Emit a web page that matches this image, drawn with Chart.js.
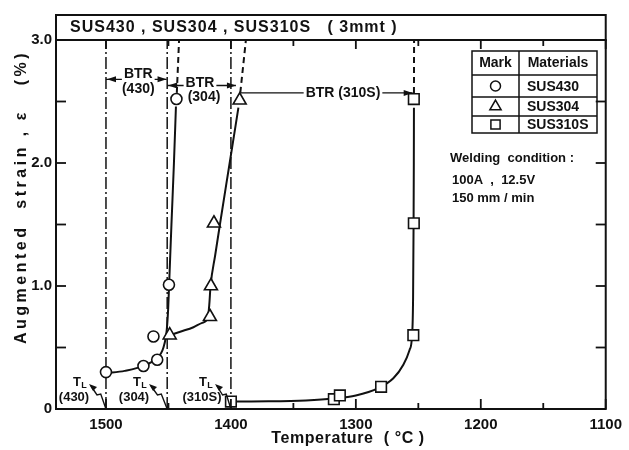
<!DOCTYPE html>
<html>
<head>
<meta charset="utf-8">
<script src="https://cdn.jsdelivr.net/npm/chart.js@4/dist/chart.umd.min.js"></script>
<style>
  html, body { margin: 0; padding: 0; background: #fff; }
  #wrap { width: 629px; height: 450px; }
</style>
</head>
<body>
<div id="wrap"><canvas id="c" width="629" height="450"></canvas></div>
<script>
// measured points (temperature degC, augmented strain %)
const sus430T = [1500, 1470, 1459, 1462, 1449.6, 1443.6];
const sus430E = [0.30, 0.35, 0.40, 0.59, 1.01, 2.52];
const sus304T = [1449, 1416.8, 1416, 1413.6, 1393];
const sus304E = [0.60, 0.75, 1.00, 1.51, 2.51];
const sus310T = [1400, 1317.6, 1312.8, 1279.8, 1254, 1253.6, 1253.6];
const sus310E = [0.06, 0.08, 0.11, 0.18, 0.60, 1.51, 2.52];

// hand drawn fitted curves
const curve430T = [1500, 1485, 1470, 1460, 1454, 1451.3, 1450.2, 1449.5, 1447.6, 1445.6, 1444];
const curve430E = [0.29, 0.31, 0.35, 0.41, 0.50, 0.65, 0.82, 1.00, 1.50, 2.00, 2.46];
const dash430T = [1443.3, 1441.5];
const dash430E = [2.57, 3.0];

const curve304T = [1449, 1440, 1430, 1423, 1418.5, 1417.3, 1416.3, 1412.6, 1408.8, 1401, 1394];
const curve304E = [0.60, 0.63, 0.665, 0.70, 0.74, 0.85, 1.00, 1.25, 1.50, 2.00, 2.45];
const dash304T = [1392.5, 1388];
const dash304E = [2.57, 3.0];

const curve310T = [1400, 1370, 1340, 1318, 1300, 1282, 1270, 1262, 1257, 1255, 1254.2, 1253.8, 1253.6, 1253.5];
const curve310E = [0.06, 0.062, 0.07, 0.085, 0.11, 0.17, 0.25, 0.36, 0.48, 0.60, 0.90, 1.50, 2.00, 2.45];
const dash310T = [1253.5, 1253.4];
const dash310E = [2.57, 3.0];

// liquidus temperatures T_L
const tlTemps = [1500, 1451, 1400];
const tlNames = ['(430)', '(304)', '(310S)'];

// brittleness temperature ranges
const btrFrom = [1500, 1451, 1392];
const btrTo = [1451.5, 1396, 1254.5];
const btrLevel = [2.68, 2.63, 2.57];

const xTicks = [1500, 1400, 1300, 1200, 1100];
const xMinor = [1450, 1350, 1250, 1150];
const yTicks = [0, 1, 2, 3];
const yTickLabels = ['0', '1.0', '2.0', '3.0'];
const yMinor = [0.5, 1.5, 2.5];

const materials = ['SUS430', 'SUS304', 'SUS310S'];

const ink = '#111';
const FONT = '"Liberation Sans", Arial, sans-serif';

const pts = (t, e) => t.map((v, i) => ({ x: v, y: e[i] }));

function curve(t, e, dash) {
  return {
    type: 'line', data: pts(t, e), borderColor: ink, borderWidth: 2,
    borderDash: dash || [], pointRadius: 0, fill: false,
    cubicInterpolationMode: 'monotone'
  };
}
function marks(t, e, style, r) {
  return {
    type: 'scatter', data: pts(t, e), pointStyle: style, pointRadius: r,
    pointBackgroundColor: '#fff', pointBorderColor: ink, pointBorderWidth: 1.6,
    showLine: false
  };
}

const datasets = [
  marks(sus430T, sus430E, 'circle', 5.5),
  marks(sus304T, sus304E, 'triangle', 7.5),
  marks(sus310T, sus310E, 'rect', 7.5),
  curve(curve430T, curve430E),
  curve(dash430T, dash430E, [6, 4]),
  curve(curve304T, curve304E),
  curve(dash304T, dash304E, [6, 4]),
  curve(curve310T, curve310E),
  curve(dash310T, dash310E, [6, 4])
];
tlTemps.forEach(t => {
  datasets.push({
    type: 'line', data: [{ x: t, y: 0 }, { x: t, y: 3 }], borderColor: ink,
    borderWidth: 1.5, borderDash: [12, 3, 2, 3], pointRadius: 0
  });
});

function arrowHead(ctx, x, y, dir) {
  ctx.beginPath();
  ctx.moveTo(x, y);
  ctx.lineTo(x - dir * 9, y - 3);
  ctx.lineTo(x - dir * 9, y + 3);
  ctx.closePath();
  ctx.fill();
}
function seg(ctx, x1, y1, x2, y2) {
  ctx.beginPath(); ctx.moveTo(x1, y1); ctx.lineTo(x2, y2); ctx.stroke();
}
function label(ctx, txt, x, y, align) {
  ctx.textAlign = align || 'center';
  ctx.fillText(txt, x, y);
}
function bgLabel(ctx, txt, x, y) {
  const w = ctx.measureText(txt).width;
  ctx.fillStyle = '#fff';
  ctx.fillRect(x - w / 2 - 2, y - 8, w + 4, 16);
  ctx.fillStyle = ink;
  label(ctx, txt, x, y);
}

const decor = {
  id: 'decor',
  afterDraw(chart) {
    const { ctx, chartArea: a, scales: { x, y } } = chart;
    ctx.save();
    ctx.strokeStyle = ink;
    ctx.fillStyle = ink;
    ctx.lineCap = 'butt';

    // frame and title box
    ctx.lineWidth = 2;
    ctx.strokeRect(a.left, a.top, a.right - a.left, a.bottom - a.top);
    ctx.strokeRect(a.left, 15, a.right - a.left, a.top - 15);
    ctx.textBaseline = 'middle';
    ctx.font = 'bold 16px ' + FONT;
    ctx.letterSpacing = '1px';
    label(ctx, 'SUS430 , SUS304 , SUS310S   ( 3mmt )', a.left + 14, 28, 'left');
    ctx.letterSpacing = '0px';

    // inward ticks on all four sides
    ctx.lineWidth = 1.8;
    xTicks.forEach(v => {
      const p = x.getPixelForValue(v);
      seg(ctx, p, a.bottom, p, a.bottom - 10);
      seg(ctx, p, a.top, p, a.top + 9);
    });
    xMinor.forEach(v => {
      const p = x.getPixelForValue(v);
      seg(ctx, p, a.bottom, p, a.bottom - 6);
      seg(ctx, p, a.top, p, a.top + 6);
    });
    yTicks.concat(yMinor).forEach(v => {
      const p = y.getPixelForValue(v);
      seg(ctx, a.left, p, a.left + 10, p);
      seg(ctx, a.right, p, a.right - 10, p);
    });

    // BTR arrows
    ctx.lineWidth = 1.4;
    ctx.font = 'bold 14px ' + FONT;
    const bx = btrFrom.map(v => x.getPixelForValue(v));
    const ex = btrTo.map(v => x.getPixelForValue(v));
    const by = btrLevel.map(v => y.getPixelForValue(v));
    // (430)
    seg(ctx, bx[0], by[0], ex[0], by[0]);
    arrowHead(ctx, bx[0] + 1, by[0], -1);
    arrowHead(ctx, ex[0], by[0], 1);
    bgLabel(ctx, 'BTR', (bx[0] + ex[0]) / 2 + 2, by[0] - 5);
    label(ctx, '(430)', (bx[0] + ex[0]) / 2 + 2, by[0] + 10);
    // (304)
    seg(ctx, bx[1], by[1], ex[1], by[1]);
    arrowHead(ctx, bx[1] + 1, by[1], -1);
    arrowHead(ctx, ex[1], by[1], 1);
    bgLabel(ctx, 'BTR', 200, by[1] - 2);
    label(ctx, '(304)', 204, by[1] + 12);
    // (310S)
    seg(ctx, bx[2], by[2], ex[2], by[2]);
    arrowHead(ctx, ex[2], by[2], 1);
    bgLabel(ctx, 'BTR (310S)', 343, by[2]);

    // T_L leaders
    ctx.font = 'bold 13px ' + FONT;
    const tlLabelX = [80, 140, 206];
    tlTemps.forEach((t, i) => {
      const px = x.getPixelForValue(t);
      const lx = tlLabelX[i];
      const tx = lx + 11, ty = a.bottom - 23;
      // leader with a small kink
      ctx.beginPath();
      ctx.moveTo(tx, ty);
      ctx.lineTo(tx + (px - tx) * 0.4, ty + 9);
      ctx.lineTo(tx + (px - tx) * 0.45 + 3, ty + 8);
      ctx.lineTo(px, a.bottom);
      ctx.stroke();
      ctx.beginPath();
      ctx.moveTo(tx - 2, ty - 2);
      ctx.lineTo(tx + 6, ty + 1);
      ctx.lineTo(tx + 2, ty + 5);
      ctx.closePath();
      ctx.fill();
      label(ctx, 'T', lx - 3, a.bottom - 27);
      ctx.font = 'bold 9px ' + FONT;
      label(ctx, 'L', lx + 4, a.bottom - 23);
      ctx.font = 'bold 13px ' + FONT;
      label(ctx, tlNames[i], lx - 6 + (i === 2 ? 2 : 0), a.bottom - 12);
    });

    // legend table
    ctx.lineWidth = 1.5;
    const L = 472, M = 519, R = 597;
    const rows = [51, 75, 97, 116, 133];
    ctx.strokeRect(L, rows[0], R - L, rows[4] - rows[0]);
    seg(ctx, M, rows[0], M, rows[4]);
    rows.slice(1, 4).forEach(r => seg(ctx, L, r, R, r));
    ctx.font = 'bold 14px ' + FONT;
    label(ctx, 'Mark', (L + M) / 2, 63);
    label(ctx, 'Materials', (M + R) / 2, 63);
    const styles = ['circle', 'triangle', 'rect'];
    const radii = [5, 6.5, 6.5];
    materials.forEach((m, i) => {
      const cy = (rows[i + 1] + rows[i + 2]) / 2;
      ctx.fillStyle = '#fff';
      Chart.helpers.drawPoint(ctx, { pointStyle: styles[i], radius: radii[i], borderWidth: 1.5 }, (L + M) / 2, cy);
      ctx.fillStyle = ink;
      label(ctx, m, M + 8, cy + 1, 'left');
    });

    // welding condition
    ctx.font = 'bold 13px ' + FONT;
    label(ctx, 'Welding  condition :', 450, 158, 'left');
    label(ctx, '100A  ,  12.5V', 452, 180, 'left');
    label(ctx, '150 mm / min', 452, 198, 'left');

    // axis titles
    ctx.font = 'bold 16px ' + FONT;
    ctx.letterSpacing = '0.6px';
    label(ctx, 'Temperature  ( °C )', 348, 439);
    ctx.save();
    ctx.translate(22, 197);
    ctx.rotate(-Math.PI / 2);
    ctx.letterSpacing = '3.5px';
    label(ctx, 'Augmented  strain , ε   (%)', 0, 0);
    ctx.restore();

    ctx.restore();
  }
};

new Chart(document.getElementById('c'), {
  type: 'scatter',
  data: { datasets },
  options: {
    responsive: false,
    animation: false,
    events: [],
    layout: { padding: { top: 40, right: 21, left: 0, bottom: 0 } },
    plugins: { legend: { display: false }, tooltip: { enabled: false } },
    scales: {
      x: {
        type: 'linear', reverse: true, min: 1100, max: 1540,
        afterBuildTicks: s => { s.ticks = xTicks.map(v => ({ value: v })); },
        afterFit: s => { s.height = 41; },
        grid: { display: false, drawTicks: false },
        border: { display: false },
        ticks: { padding: 7, color: ink, font: { family: FONT, size: 15, weight: 'bold' }, callback: v => String(v), maxRotation: 0 }
      },
      y: {
        type: 'linear', min: 0, max: 3,
        afterBuildTicks: s => { s.ticks = yTicks.map(v => ({ value: v })); },
        afterFit: s => { s.width = 56; },
        grid: { display: false, drawTicks: false },
        border: { display: false },
        ticks: { padding: 4, color: ink, font: { family: FONT, size: 15, weight: 'bold' }, callback: v => yTickLabels[yTicks.indexOf(v)] }
      }
    }
  },
  plugins: [decor]
});
</script>
</body>
</html>
